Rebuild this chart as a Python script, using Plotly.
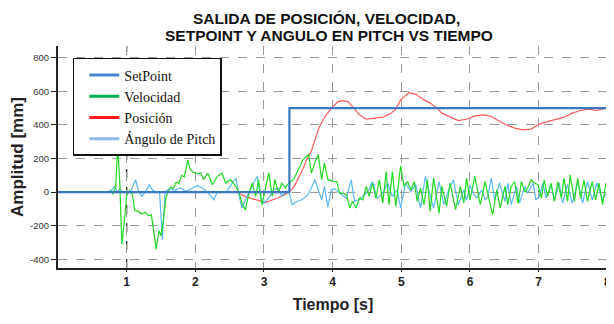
import plotly.graph_objects as go

# ---------------- data ----------------
sp_t = [0, 3.37, 8.0]
sp_v = [0, 500, 500]

vel_t = [0, 0.74, 0.76, 0.80, 0.84, 0.87, 0.90, 0.93, 0.96, 1.00, 1.04, 1.08, 1.12, 1.17, 1.22,
         1.27, 1.32, 1.36, 1.40, 1.43, 1.47, 1.50, 1.53, 1.57, 1.60, 1.64, 1.68, 1.72, 1.76, 1.80,
         1.84, 1.89, 1.92, 1.96, 2.00, 2.04, 2.08, 2.12, 2.18, 2.25, 2.32, 2.39, 2.44, 2.51, 2.59,
         2.64, 2.68, 2.73, 2.78, 2.83, 2.88, 2.92, 2.97, 3.02, 3.07, 3.12, 3.16, 3.21, 3.26, 3.31,
         3.36, 3.43, 3.50, 3.57, 3.65, 3.69, 3.74, 3.79, 3.84, 3.88, 3.93, 4.01, 4.06, 4.10, 4.15,
         4.20, 4.25, 4.29, 4.34, 4.39, 4.44, 4.49, 4.53, 4.58, 4.63, 4.68, 4.73, 4.78, 4.82, 4.87,
         4.92, 4.99, 5.04, 5.09, 5.14, 5.19, 5.23, 5.28, 5.33, 5.38, 5.42, 5.47, 5.55, 5.59, 5.66,
         5.71, 5.79, 5.86, 5.91, 5.95, 6.00, 6.07, 6.15, 6.22, 6.29, 6.33, 6.39, 6.44, 6.51, 6.55,
         6.60, 6.65, 6.70, 6.75, 6.80, 6.84, 6.89, 6.94, 6.99, 7.04, 7.08, 7.13, 7.18, 7.23, 7.28,
         7.33, 7.37, 7.42, 7.46, 7.52, 7.57, 7.61, 7.66, 7.71, 7.78, 7.83, 7.88, 7.93, 7.98]
vel_v = [0, 0, 10, -10, 30, 280, 50, -310, -200, -20, 10, -10, -110, -115, -130,
         -120, -140, -135, -250, -340, -230, -260, -180, -40, 0, 30, 20, 60, 50, 100,
         90, 190, 140, 120, 114, 110, 114, 74, 114, 44, 94, 114, 54, 74, 34,
         -6, -66, -106, -6, 54, -26, 74, -76, 14, 114, -26, 74, -6, 54, 24,
         54, 74, 134, 194, 224, 114, 174, 224, 74, 174, 74, 64, 63, -6, -6,
         -16, -95, -55, -95, -36, -46, 34, -26, 54, -36, 73, -65, 123, -75, 123,
         -85, 157, 34, 63, 14, 63, -55, 24, -75, 73, -115, 83, -125, 34, -85,
         54, -105, 34, -65, 83, -46, 93, -75, 63, -66, -135, 14, -95, 34, -75,
         34, 63, -66, 63, 0, 24, 73, 54, 44, -36, 73, -26, 54, -56, 63,
         -36, 83, -56, 103, -56, 83, -36, 73, -56, 63, -46, 54, -75, 54]

pos_t = [0, 2.60, 2.65, 2.75, 2.85, 2.95, 3.02, 3.10, 3.20, 3.30, 3.37, 3.45, 3.52, 3.57, 3.62,
         3.69, 3.75, 3.79, 3.84, 3.89, 3.98, 4.08, 4.15, 4.22, 4.29, 4.39, 4.49, 4.61, 4.73, 4.85,
         4.92, 4.99, 5.11, 5.21, 5.33, 5.42, 5.52, 5.59, 5.71, 5.83, 5.95, 6.07, 6.19, 6.31, 6.41,
         6.53, 6.65, 6.77, 6.89, 7.01, 7.13, 7.25, 7.37, 7.49, 7.61, 7.73, 7.85, 7.97]
pos_v = [0, 0, -10, -30, -42, -55, -62, -50, -35, -15, 0, 40, 93, 140, 192,
         245, 320, 371, 415, 450, 500, 539, 545, 539, 509, 460, 434, 440, 446, 470,
         494, 549, 592, 582, 549, 530, 500, 470, 450, 426, 434, 454, 460, 450, 426,
         400, 381, 371, 375, 405, 420, 434, 446, 470, 486, 494, 486, 500]

pitch_t = [0, 0.74, 0.78, 0.82, 0.86, 0.90, 0.95, 1.00, 1.05, 1.09, 1.13, 1.17, 1.22, 1.27, 1.33,
           1.38, 1.44, 1.48, 1.52, 1.56, 1.62, 1.70, 1.78, 1.86, 1.94, 2.03, 2.10, 2.18, 2.27, 2.32,
           2.45, 2.59, 2.64, 2.68, 2.73, 2.78, 2.85, 2.90, 2.94, 2.99, 3.07, 3.14, 3.21, 3.26, 3.31,
           3.36, 3.41, 3.48, 3.55, 3.62, 3.69, 3.74, 3.79, 3.84, 3.88, 3.93, 3.98, 4.03, 4.10, 4.20,
           4.27, 4.32, 4.37, 4.44, 4.53, 4.58, 4.65, 4.73, 4.80, 4.87, 4.94, 4.99, 5.06, 5.14, 5.21,
           5.28, 5.35, 5.42, 5.47, 5.55, 5.62, 5.69, 5.76, 5.83, 5.91, 5.95, 6.00, 6.05, 6.10, 6.17,
           6.22, 6.26, 6.31, 6.36, 6.43, 6.51, 6.55, 6.60, 6.68, 6.72, 6.80, 6.84, 6.92, 6.96, 7.01,
           7.06, 7.11, 7.18, 7.23, 7.30, 7.35, 7.42, 7.49, 7.57, 7.64, 7.71, 7.78, 7.85, 7.93, 7.98]
pitch_v = [0, 0, 10, 35, 0, 20, -5, 5, -5, 30, 73, 10, -26, 0, 43,
           10, 0, -5, -284, 0, 20, 10, 25, 5, 20, 40, 25, 0, -46, 0,
           0, 84, -26, -96, -46, -6, 54, 94, -6, -66, -36, 14, 24, -26, 4,
           4, -76, -56, -46, -26, 24, 74, 14, -46, 34, -90, 14, 20, -6, -36,
           73, -55, -46, -26, 14, 63, -36, -6, 54, -26, 14, -95, 54, 4, 44,
           -95, 93, -16, -95, 63, -75, 14, 73, -75, 14, -50, 40, -10, -36, 14,
           -46, -26, 83, -46, 54, -56, 54, -75, 34, -66, 34, -6, 54, -46, -26,
           54, -36, 44, -46, 54, -66, 44, -66, 63, -66, 63, -46, 54, -46, -10]

x_ticks = [1, 2, 3, 4, 5, 6, 7, 8]
x_ticktext = ["1", "2", "3", "4", "5", "6", "7", "8"]
y_ticks = [-400, -200, 0, 200, 400, 600, 800]
y_ticktext = ["-400", "-200", "0", "200", "400", "600", "800"]
marker_t = 1.0
title_lines = ["SALIDA DE POSICIÓN, VELOCIDAD,", "SETPOINT Y ANGULO EN PITCH VS TIEMPO"]

series_names = ["SetPoint", "Velocidad", "Posición", "Ángulo de Pitch"]
plot_colors = ["#3a78c0", "#22d822", "#ff5a5a", "#5ab9f2"]
legend_colors = ["#4a86d0", "#00b050", "#ff1a1a", "#8db8ea"]

SANS = "Liberation Sans, Arial"

# ---------------- figure ----------------
fig = go.Figure()
fig.add_trace(go.Scatter(x=pos_t, y=pos_v, mode="lines", name=series_names[2], showlegend=False,
                         line=dict(color=plot_colors[2], width=1.2)))
fig.add_trace(go.Scatter(x=pitch_t, y=pitch_v, mode="lines", name=series_names[3], showlegend=False,
                         line=dict(color=plot_colors[3], width=1.2)))
fig.add_trace(go.Scatter(x=vel_t, y=vel_v, mode="lines", name=series_names[1], showlegend=False,
                         line=dict(color=plot_colors[1], width=1.2)))
fig.add_trace(go.Scatter(x=sp_t, y=sp_v, mode="lines", name=series_names[0], line_shape="hv",
                         showlegend=False, line=dict(color=plot_colors[0], width=2.2)))

# legend entries (thicker sample lines, as in the reference legend)
for i, (nm, col) in enumerate(zip(series_names, legend_colors)):
    fig.add_trace(go.Scatter(x=[None], y=[None], mode="lines", name=nm,
                             line=dict(color=col, width=3), legendrank=i + 1))

fig.add_shape(type="line", xref="x", yref="paper", x0=marker_t, x1=marker_t, y0=0, y1=1,
              line=dict(color="#333333", width=1.3, dash="dash"), layer="below")
fig.add_shape(type="line", xref="paper", yref="paper", x0=1, x1=1, y0=0, y1=1.03,
              line=dict(color="#555555", width=1.5))

fig.add_annotation(text="<b>%s</b>" % title_lines[0], xref="paper", yref="paper",
                   x=0.489, y=1.126, xanchor="center", yanchor="middle", showarrow=False,
                   font=dict(family=SANS, size=15.5, color="#111111"))
fig.add_annotation(text="<b>%s</b>" % title_lines[1], xref="paper", yref="paper",
                   x=0.493, y=1.0495, xanchor="center", yanchor="middle", showarrow=False,
                   font=dict(family=SANS, size=15.5, color="#111111"))

fig.update_layout(
    width=606, height=316,
    margin=dict(l=50, r=6, t=38, b=56),
    paper_bgcolor="white", plot_bgcolor="white",
    showlegend=True,
    legend=dict(x=0.027, y=0.946, xanchor="left", yanchor="top",
                bgcolor="white", bordercolor="#111111", borderwidth=1.5,
                font=dict(family="Liberation Serif", size=14, color="#111111"),
                indentation=10, traceorder="normal"),
    xaxis=dict(range=[0, 8.01], tickvals=x_ticks, ticktext=x_ticktext,
               showgrid=True, gridcolor="#9a9a9a", griddash="dash", gridwidth=1,
               showline=True, linecolor="#222222", linewidth=2,
               ticks="outside", ticklen=2, tickcolor="#222222",
               ticklabeloverflow="allow", automargin=False,
               tickfont=dict(family=SANS, size=12, color="#222222", weight="bold"),
               title=dict(text="<b>Tiempo [s]</b>", font=dict(family=SANS, size=16, color="#222222"),
                          standoff=10),
               zeroline=False),
    yaxis=dict(range=[-452, 870], tickvals=y_ticks, ticktext=y_ticktext,
               showgrid=True, gridcolor="#9a9a9a", griddash="dash", gridwidth=1,
               showline=True, linecolor="#222222", linewidth=2,
               ticks="outside", ticklen=5, tickcolor="#222222", automargin=False,
               tickfont=dict(family=SANS, size=9.5, color="#333333"),
               title=dict(text="<b>Amplitud [mm]</b>", font=dict(family=SANS, size=17, color="#222222"),
                          standoff=10),
               zeroline=False),
)

fig.write_html("out.html")
